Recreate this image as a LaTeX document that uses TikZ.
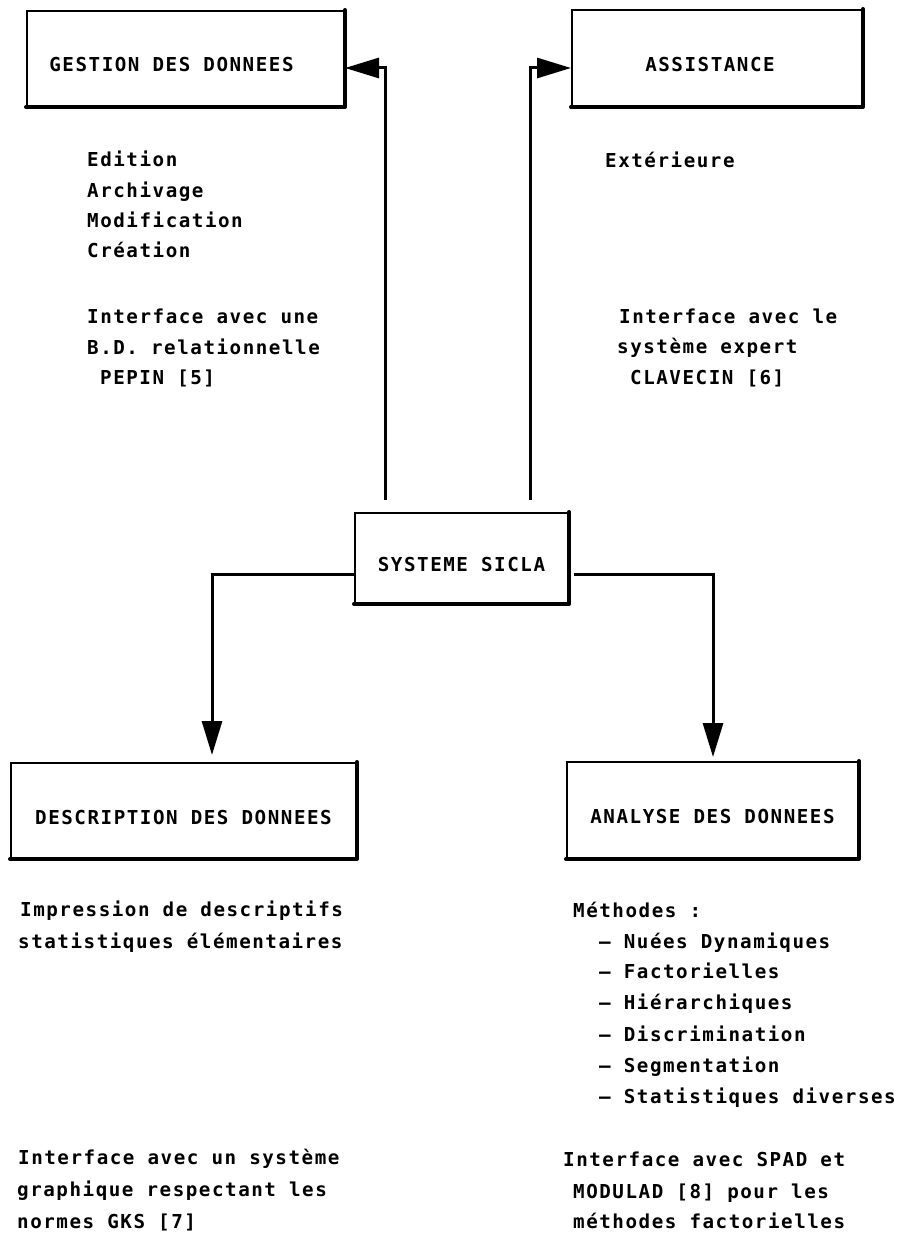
\documentclass[tikz,border=0pt]{standalone}
\usepackage{fontspec}
\usetikzlibrary{arrows.meta}
\newfontfamily\plotfont{DejaVu Sans Mono Bold}[LetterSpace=8]
\begin{document}
\begin{tikzpicture}[x=1pt,y=-1pt,
  every node/.style={font=\plotfont\fontsize{19.2}{30}\selectfont},
  titlebox/.style={draw, line width=2pt, rectangle, inner sep=0pt, text height=27pt, text depth=0pt},
  txt/.style={anchor=base west, inner sep=0pt},
  thickedge/.style={line width=4pt, line cap=round, line join=round},
  conn/.style={line width=3pt, -{Triangle[length=34pt,width=20pt]}}]
\useasboundingbox (0,0) rectangle (909,1233);

% boxes
\node[titlebox, minimum width=317pt, minimum height=95pt] (gest) at (185.5,58.5) {GESTION DES DONNEES\hspace*{28pt}};
\node[titlebox, minimum width=290pt, minimum height=96pt] (assist) at (717,58) {ASSISTANCE\hspace*{14pt}};
\node[titlebox, minimum width=213pt, minimum height=90pt] (sys) at (461.5,558) {SYSTEME SICLA};
\node[titlebox, minimum width=345pt, minimum height=95pt] (desc) at (183.5,810.5) {DESCRIPTION DES DONNEES};
\node[titlebox, minimum width=291pt, minimum height=96pt] (anal) at (712.5,810) {ANALYSE DES DONNEES};

\foreach \b in {gest,assist,sys,desc,anal}
  \draw[thickedge] (\b.north east) -- (\b.south east) -- (\b.south west);

% connector ends
\coordinate (cL) at (385,500);
\coordinate (cR) at (530,500);
\coordinate (dL) at (212,755);
\coordinate (dR) at (713,757);

\draw[conn] (cL) |- ([yshift=-9.5pt]gest.east);
\draw[conn] (cR) |- ([yshift=-10pt]assist.west);
\draw[conn] ([yshift=-16pt]sys.west) -| (dL);
\draw[conn] ([yshift=-16pt,xshift=5pt]sys.east) -| (dR);

% texts: Gestion
\foreach \x/\y/\t [count=\i] in {87/167/Edition, 87/198/Archivage, 87/228/Modification, 87/258/Création,
  87/323/Interface avec une, 87/354/B.D. relationnelle, 100/384/PEPIN [5]}
  \node[txt] (g\i) at (\x,\y) {\t};

% texts: Assistance
\foreach \x/\y/\t [count=\i] in {605/168/Extérieure, 619/323/Interface avec le, 617/353/système expert, 630/384/CLAVECIN [6]}
  \node[txt] (a\i) at (\x,\y) {\t};

% texts: Description
\foreach \x/\y/\t [count=\i] in {20/916/Impression de descriptifs, 18/948/statistiques élémentaires,
  18/1164/Interface avec un système, 17/1196/graphique respectant les, 17/1228/normes GKS [7]}
  \node[txt] (d\i) at (\x,\y) {\t};

% texts: Analyse
\foreach \x/\y/\t [count=\i] in {573/917/Méthodes :, 599/948/– Nuées Dynamiques, 599/978/– Factorielles,
  599/1009/– Hiérarchiques, 599/1041/– Discrimination, 599/1072/– Segmentation, 599/1103/– Statistiques diverses,
  563/1166/Interface avec SPAD et, 573/1198/MODULAD [8] pour les, 573/1228/méthodes factorielles}
  \node[txt] (n\i) at (\x,\y) {\t};
\end{tikzpicture}
\end{document}
